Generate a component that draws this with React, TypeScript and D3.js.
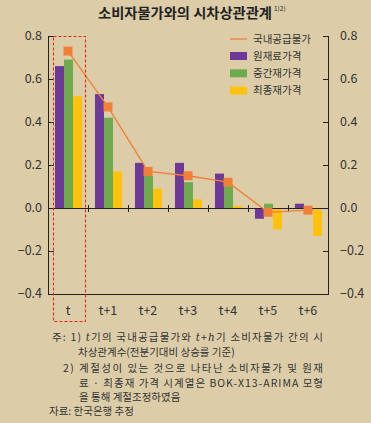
import React from "react";
import * as d3 from "d3";

const categories = ["t", "t+1", "t+2", "t+3", "t+4", "t+5", "t+6"];
const seriesNames = ["원재료가격", "중간재가격", "최종재가격"];
const rawMaterial = [0.66, 0.53, 0.21, 0.21, 0.16, -0.05, 0.02];
const intermediate = [0.69, 0.42, 0.15, 0.12, 0.11, 0.02, -0.01];
const finalGoods = [0.52, 0.17, 0.09, 0.04, 0.01, -0.1, -0.13];
const domesticSupply = [0.73, 0.47, 0.17, 0.15, 0.12, -0.02, -0.01];
const lineName = "국내공급물가";
const yTicks = [0.8, 0.6, 0.4, 0.2, 0.0, -0.2, -0.4];
const title = "소비자물가와의 시차상관관계";
const titleSup = "1)2)";

const W = 371;
const H = 423;
const BG = "#dccda8";
const colors = ["#6e3996", "#6eab4f", "#fec20f"];
const ORANGE = "#f07f38";
const FONT = "'Noto Sans CJK KR', 'Noto Sans', sans-serif";

export default function App() {
  const x = d3.scaleBand<string>().domain(categories).range([48, 328]).padding(0);
  const xs = d3.scaleBand<string>().domain(seriesNames).range([7, 34]).padding(0);
  const y = d3.scaleLinear().domain([-0.4, 0.8]).range([294, 36]);
  const seriesVals = [rawMaterial, intermediate, finalGoods];
  const y0 = y(0);
  const line = d3
    .line<number>()
    .x((_, i) => (x(categories[i]) as number) + x.bandwidth() / 2)
    .y((d) => y(d));
  const fmt = d3.format(".1f");
  const ms = 9;
  const serif = "'DejaVu Serif', serif";

  return (
    <svg
      width={W}
      height={H}
      style={{ position: "absolute", left: 0, top: 0, display: "block" }}
      fontFamily={FONT}
    >
      <rect x={0} y={0} width={W} height={H} fill={BG} />
      {/* title */}
      <text x={98} y={18} fontSize={13.5} fontWeight={700} fill="#222" textLength={174} lengthAdjust="spacingAndGlyphs">
        {title}
      </text>
      <text x={274} y={11} fontSize={6.5} fill="#222">
        {titleSup}
      </text>

      {/* bars */}
      {seriesVals.map((vals, si) =>
        vals.map((v, ci) => {
          const bx = (x(categories[ci]) as number) + (xs(seriesNames[si]) as number);
          const top = Math.min(y(v), y0);
          const h = Math.abs(y(v) - y0);
          return <rect key={`b${si}-${ci}`} x={bx} y={top} width={xs.bandwidth()} height={h} fill={colors[si]} />;
        })
      )}

      {/* axes */}
      <line x1={48.5} x2={48.5} y1={36} y2={294.5} stroke="#222" strokeWidth={1} />
      <line x1={328.5} x2={328.5} y1={36} y2={294.5} stroke="#222" strokeWidth={1} />
      <line x1={48} x2={329} y1={294.5} y2={294.5} stroke="#222" strokeWidth={1} />
      <line x1={48} x2={329} y1={Math.round(y0) + 0.5} y2={Math.round(y0) + 0.5} stroke="#222" strokeWidth={1} />
      {categories.slice(1).map((c) => {
        const cx = Math.round(x(c) as number) + 0.5;
        return <line key={`xt${c}`} x1={cx} x2={cx} y1={y0 - 3} y2={y0 + 4} stroke="#222" />;
      })}
      {yTicks.map((t) => {
        const ty = Math.round(y(t)) + 0.5;
        return (
          <g key={`yt${t}`}>
            <line x1={48} x2={54} y1={ty} y2={ty} stroke="#222" />
            <line x1={323} x2={329} y1={ty} y2={ty} stroke="#222" />
            <text x={42} y={y(t)} dy="0.35em" textAnchor="end" fontSize={12.5} fill="#333">
              {fmt(t)}
            </text>
            <text x={340} y={y(t)} dy="0.35em" textAnchor="start" fontSize={12.5} fill="#333">
              {fmt(t)}
            </text>
          </g>
        );
      })}
      {categories.map((c) => (
        <text
          key={`xl${c}`}
          x={(x(c) as number) + x.bandwidth() / 2}
          y={311}
          dy="0.35em"
          textAnchor="middle"
          fontSize={12.5}
          fill="#333"
        >
          {c}
        </text>
      ))}

      {/* line + markers */}
      <path d={line(domesticSupply) as string} fill="none" stroke={ORANGE} strokeWidth={1.3} />
      {domesticSupply.map((v, i) => (
        <rect
          key={`m${i}`}
          x={(x(categories[i]) as number) + x.bandwidth() / 2 - ms / 2}
          y={y(v) - ms / 2}
          width={ms}
          height={ms}
          fill={ORANGE}
        />
      ))}

      {/* highlight box */}
      <rect x={53.5} y={36.5} width={32} height={285} fill="none" stroke="#e8261c" strokeWidth={1.1} strokeDasharray="3,2" />

      {/* legend */}
      <line x1={230} x2={247} y1={39} y2={39} stroke={ORANGE} strokeWidth={1.3} />
      <text x={253} y={39} dy="0.35em" fontSize={10.5} fill="#333">
        {lineName}
      </text>
      {seriesNames.map((s, i) => (
        <g key={`lg${s}`}>
          <rect x={230} y={56 + i * 17.3 - 4} width={17} height={8} fill={colors[i]} />
          <text x={253} y={56 + i * 17.3} dy="0.35em" fontSize={10.5} fill="#333">
            {s}
          </text>
        </g>
      ))}

      {/* footnotes */}
      <g fontSize={10.5} fill="#333">
        <text x={52} y={337} dy="0.35em" textLength={271} lengthAdjust="spacing">
          주: 1) <tspan fontStyle="italic" fontFamily={serif}>t</tspan>기의 국내공급물가와{" "}
          <tspan fontStyle="italic" fontFamily={serif}>t</tspan>+
          <tspan fontStyle="italic" fontFamily={serif}>h</tspan>기 소비자물가 간의 시
        </text>
        <text x={78} y={352.5} dy="0.35em">
          차상관계수(전분기대비 상승률 기준)
        </text>
        <text x={63} y={368} dy="0.35em" textLength={260} lengthAdjust="spacing">
          2) 계절성이 있는 것으로 나타난 소비자물가 및 원재
        </text>
        <text x={79} y={383} dy="0.35em" textLength={244} lengthAdjust="spacing">
          료 · 최종재 가격 시계열은 BOK-X13-ARIMA 모형
        </text>
        <text x={79} y={397.5} dy="0.35em">
          을 통해 계절조정하였음
        </text>
        <text x={49} y={411.5} dy="0.35em">
          자료: 한국은행 추정
        </text>
      </g>
    </svg>
  );
}
